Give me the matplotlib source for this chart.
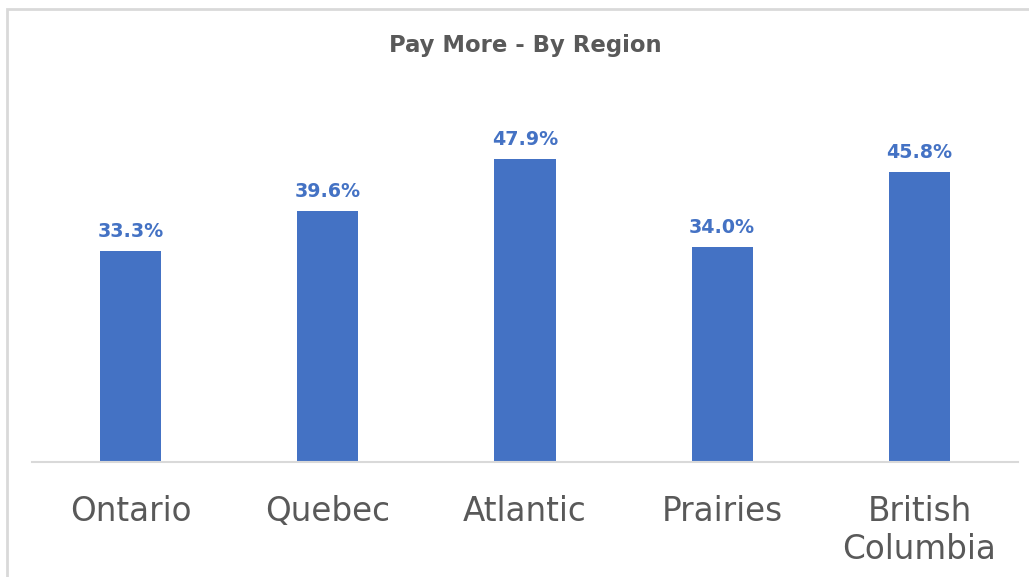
import matplotlib.pyplot as plt
from matplotlib.patches import Rectangle
import numpy as np

# Data
regions = ['Ontario', 'Quebec', 'Atlantic', 'Prairies', 'British\nColumbia']
pay_more = [33.3, 39.6, 47.9, 34.0, 45.8]

bar_color = '#4472C4'
text_grey = '#595959'

fig = plt.figure(figsize=(10.29, 5.77), dpi=100)
ax = fig.add_axes([32/1029, (577-462)/577, 986/1029, 380/577])

x = np.arange(len(regions))
bars = ax.bar(x, pay_more, width=0.31, color=bar_color)

for rect, v in zip(bars, pay_more):
    ax.annotate('%.1f%%' % v, (rect.get_x() + rect.get_width()/2, v),
                xytext=(0, 10), textcoords='offset points',
                ha='center', va='baseline', fontsize=13.7, fontweight='bold',
                color=bar_color)

ax.set_xlim(-0.5, len(regions) - 0.5)
ax.set_ylim(0, 60)
ax.set_yticks([])
ax.set_xticks(x)
ax.set_xticklabels(regions, fontsize=23.5, color=text_grey)
ax.tick_params(axis='x', length=0, pad=23.5)
for s in ['top', 'right', 'left']:
    ax.spines[s].set_visible(False)
ax.spines['bottom'].set_color('#D9D9D9')
ax.spines['bottom'].set_linewidth(1.5)

fig.text(525/1029, 1 - 52/577, 'Pay More - By Region', ha='center', va='baseline',
         fontsize=16.4, fontweight='bold', color=text_grey)

# chart frame (only top and left visible in the crop)
fig.patches.append(Rectangle((7/1029, -0.1), 1.2, 1 - 9/577 + 0.1,
                             transform=fig.transFigure, fill=False,
                             edgecolor='#D9D9D9', linewidth=2))

plt.savefig('out.png', dpi=100)
